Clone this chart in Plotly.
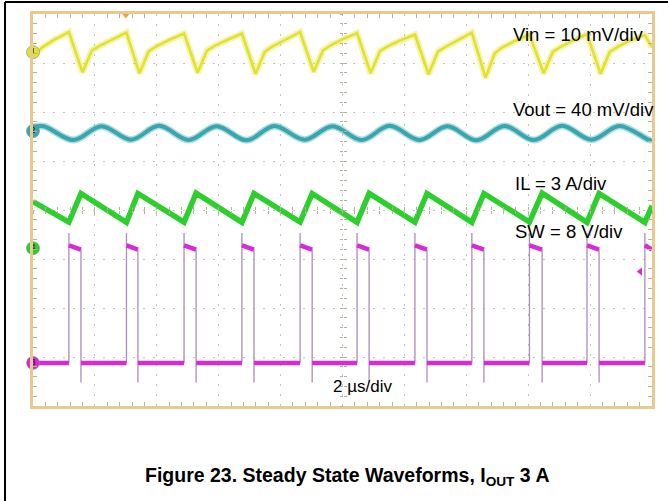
import plotly.graph_objects as go

# ---------------- data ----------------
# time in microseconds (2 us/div, 10 divisions)
vin_t = [0.00, 0.30, 0.70,
         1.16, 1.60, 1.90, 2.15, 2.55,
         3.02, 3.44, 3.74, 3.99, 4.39,
         4.88, 5.32, 5.62, 5.87, 6.27,
         6.75, 7.19, 7.49, 7.74, 8.14,
         8.63, 9.07, 9.37, 9.62, 10.02,
         10.47, 10.91, 11.21, 11.46, 11.86,
         12.34, 12.78, 13.08, 13.33, 13.73,
         14.18, 14.62, 14.92, 15.17, 15.57,
         16.04, 16.50, 16.80, 17.05, 17.45,
         17.90, 18.34, 18.64, 18.89, 19.29,
         19.77, 20.00]
vin_mv = [-0.8, 1.0, 2.6,
          4.1, -4.1, 0.3, 1.3, 2.6,
          4.0, -4.3, 0.2, 1.2, 2.5,
          3.8, -4.2, 0.3, 1.3, 2.5,
          3.8, -4.4, 0.1, 1.2, 2.5,
          4.1, -4.0, 0.4, 1.4, 2.7,
          3.9, -4.3, 0.2, 1.2, 2.4,
          3.6, -4.5, 0.1, 1.1, 2.4,
          4.0, -5.2, -0.2, 1.0, 2.3,
          3.6, -4.3, 0.1, 1.1, 2.4,
          3.7, -4.4, 0.1, 1.1, 2.4,
          3.5, 1.0]

vout_t = [0.00, 0.35, 1.31, 2.21, 3.17, 4.07, 5.03, 5.93, 6.90, 7.80, 8.78, 9.68,
          10.62, 11.52, 12.49, 13.39, 14.33, 15.23, 16.19, 17.09, 18.05, 18.95, 19.92, 20.00]
vout_mv = [3.3, 4.0, -7.3, 4.0, -7.0, 4.3, -7.3, 4.0, -7.5, 4.2, -7.0, 4.0,
           -7.3, 4.3, -7.2, 4.0, -7.5, 4.2, -7.3, 4.3, -7.0, 4.2, -7.3, -6.9]

il_t = [0.00, 1.16, 1.55, 3.02, 3.39, 4.88, 5.27, 6.75, 7.14, 8.63, 9.02, 10.47,
        10.86, 12.34, 12.73, 14.18, 14.57, 16.04, 16.45, 17.90, 18.29, 19.77, 20.00]
il_a = [2.85, 1.60, 3.35, 1.58, 3.35, 1.60, 3.37, 1.58, 3.35, 1.60, 3.35, 1.58,
        3.36, 1.60, 3.35, 1.58, 3.35, 1.60, 3.37, 1.58, 3.35, 1.58, 2.60]

sw_rise_us = [1.16, 3.02, 4.88, 6.75, 8.63, 10.47, 12.34, 14.18, 16.04, 17.90, 19.77]
sw_fall_us = [1.55, 3.39, 5.27, 7.14, 9.02, 10.86, 12.73, 14.57, 16.45, 18.29]
sw_high_start_v = 19.2
sw_high_end_v = 18.5
sw_overshoot_v = 21.2
sw_undershoot_v = -3.2
sw_low_v = 0.0
sw_trigger_level_v = 14.9
trigger_time_us = 3.0

channel_labels = ["1", "2", "4", "3"]
scale_labels = ["Vin = 10 mV/div", "Vout = 40 mV/div", "IL = 3 A/div", "SW = 8 V/div"]
time_label = "2 µs/div"
caption = "<b>Figure 23. Steady State Waveforms, I<sub>OUT</sub> 3 A</b>"

# ---------------- styling / layout config ----------------
YEL = "#E2E22C"
TEAL = "#36A7AF"
GREEN = "#2CCF2C"
MAG = "#D62BD6"
EDGE = "#A98DB8"
TAN = "#E9C98E"
GRID = "#C4C4C4"
TICK = "#B9AE98"
FONT = "Liberation Sans, Arial, sans-serif"

T_END = 20.0
# channel: (axis name, offset in divisions, units per division)
chan = [("y2", 3.22, 10.0), ("y3", 1.61, 40.0), ("y4", -0.78, 3.0), ("y5", -3.12, 8.0)]
chan_colors = [YEL, TEAL, GREEN, MAG]

fig = go.Figure()

# Vin: soft halo + core
fig.add_trace(go.Scatter(x=vin_t, y=vin_mv, yaxis="y2", mode="lines",
                         line=dict(color=YEL, width=6.5), opacity=0.35, hoverinfo="skip"))
fig.add_trace(go.Scatter(x=vin_t, y=vin_mv, yaxis="y2", mode="lines",
                         line=dict(color=YEL, width=2.6), hoverinfo="skip"))
# Vout
fig.add_trace(go.Scatter(x=vout_t, y=vout_mv, yaxis="y3", mode="lines",
                         line=dict(color=TEAL, width=7, shape="spline", smoothing=1.0),
                         opacity=0.4, hoverinfo="skip"))
fig.add_trace(go.Scatter(x=vout_t, y=vout_mv, yaxis="y3", mode="lines",
                         line=dict(color=TEAL, width=4, shape="spline", smoothing=1.0),
                         hoverinfo="skip"))
# IL
fig.add_trace(go.Scatter(x=il_t, y=il_a, yaxis="y4", mode="lines",
                         line=dict(color=GREEN, width=5.5), hoverinfo="skip"))

# SW edges (thin) and plateaus (thick)
ex, ey = [], []
for r in sw_rise_us:
    ex += [r, r, None]
    ey += [sw_low_v, sw_overshoot_v, None]
for f in sw_fall_us:
    ex += [f, f, None]
    ey += [sw_high_end_v, sw_undershoot_v, None]
fig.add_trace(go.Scatter(x=ex, y=ey, yaxis="y5", mode="lines",
                         line=dict(color=EDGE, width=1.3), hoverinfo="skip"))

px_, py_ = [0.0, sw_rise_us[0], None], [sw_low_v, sw_low_v, None]
for i, r in enumerate(sw_rise_us):
    f = sw_fall_us[i] if i < len(sw_fall_us) else T_END
    px_ += [r, f, None]
    py_ += [sw_high_start_v, sw_high_end_v, None]
    if i < len(sw_fall_us):
        nxt = sw_rise_us[i + 1]
        px_ += [f, nxt, None]
        py_ += [sw_low_v, sw_low_v, None]
fig.add_trace(go.Scatter(x=px_, y=py_, yaxis="y5", mode="lines",
                         line=dict(color=MAG, width=4.5), hoverinfo="skip"))

# channel ground markers
for (ax, off, sc), col, lab in zip(chan, chan_colors, channel_labels):
    fig.add_trace(go.Scatter(x=[0], y=[0], yaxis=ax, mode="markers+text",
                             marker=dict(size=13, color=col, line=dict(color="#8a8a8a", width=0.6)),
                             text=[lab], textposition="middle center",
                             textfont=dict(size=9, color="#222222", family=FONT),
                             cliponaxis=False, hoverinfo="skip"))

# trigger markers
fig.add_trace(go.Scatter(x=[trigger_time_us], y=[4], yaxis="y", mode="markers",
                         marker=dict(symbol="triangle-down", size=9, color="#F0A040"),
                         cliponaxis=False, hoverinfo="skip"))
fig.add_trace(go.Scatter(x=[19.62], y=[sw_trigger_level_v], yaxis="y5", mode="markers",
                         marker=dict(symbol="triangle-left", size=7, color=MAG),
                         cliponaxis=False, hoverinfo="skip"))

# dummy traces for centre tick axes
for xa, ya in [("x2", "y"), ("x3", "y"), ("x", "y6"), ("x", "y7")]:
    fig.add_trace(go.Scatter(x=[None], y=[None], xaxis=xa, yaxis=ya, hoverinfo="skip"))

base_x = dict(range=[0, T_END], showticklabels=False, zeroline=False, fixedrange=True)
base_y = dict(range=[-4, 4], showticklabels=False, zeroline=False, fixedrange=True)

layout = dict(
    width=668, height=501,
    margin=dict(l=33, r=16, t=14, b=95),
    paper_bgcolor="white", plot_bgcolor="white",
    showlegend=False,
    xaxis=dict(**base_x, showline=True, linecolor=TAN, linewidth=3, mirror="ticks",
               showgrid=True, gridcolor=GRID, griddash="2px,8px", gridwidth=1,
               dtick=2, tick0=0, ticks="",
               minor=dict(dtick=0.4, tick0=0, ticks="inside", ticklen=4,
                          tickcolor=TICK, tickwidth=1, showgrid=False)),
    yaxis=dict(**base_y, showline=True, linecolor=TAN, linewidth=3, mirror="ticks",
               showgrid=True, gridcolor=GRID, griddash="2px,8px", gridwidth=1,
               dtick=1, tick0=0, ticks="",
               minor=dict(dtick=0.2, tick0=0, ticks="inside", ticklen=4,
                          tickcolor=TICK, tickwidth=1, showgrid=False)),
    xaxis2=dict(**base_x, overlaying="x", anchor="free", position=0.5, showline=False,
                showgrid=False, dtick=0.4, tick0=0, ticks="outside", ticklen=3,
                tickcolor=TICK),
    xaxis3=dict(**base_x, overlaying="x", anchor="free", position=0.5, showline=False,
                showgrid=False, dtick=0.4, tick0=0, ticks="inside", ticklen=3,
                tickcolor=TICK),
    yaxis6=dict(**base_y, overlaying="y", anchor="free", position=0.5, showline=False,
                showgrid=False, dtick=0.2, tick0=0, ticks="outside", ticklen=3,
                tickcolor=TICK),
    yaxis7=dict(**base_y, overlaying="y", anchor="free", position=0.5, showline=False,
                showgrid=False, dtick=0.2, tick0=0, ticks="inside", ticklen=3,
                tickcolor=TICK),
)
for ax, off, sc in chan:
    key = "yaxis" + ax[1:]
    layout[key] = dict(overlaying="y", visible=False, fixedrange=True,
                       range=[(-4 - off) * sc, (4 - off) * sc])
fig.update_layout(**layout)

# scale annotations (x in us, y in divisions)
ann_pos = [(15.44, 3.59), (15.44, 2.06), (15.51, 0.55), (15.51, -0.43)]
for txt, (ax_, ay_) in zip(scale_labels, ann_pos):
    fig.add_annotation(x=ax_, y=ay_, xref="x", yref="y", text=txt, showarrow=False,
                       xanchor="left", yanchor="middle",
                       font=dict(family=FONT, size=18.5, color="black"))
fig.add_annotation(x=9.63, y=-3.6, xref="x", yref="y", text=time_label, showarrow=False,
                   xanchor="left", yanchor="middle",
                   font=dict(family=FONT, size=17, color="black"))
fig.add_annotation(x=0.507, y=-0.181, xref="paper", yref="paper", text=caption,
                   showarrow=False, xanchor="center", yanchor="middle",
                   font=dict(family=FONT, size=19.5, color="black"))

# outer page border (top and left)
fig.add_shape(type="line", xref="paper", yref="paper", x0=-0.0452, x1=1.03, y0=1.0306, y1=1.0306,
              line=dict(color="black", width=2))
fig.add_shape(type="line", xref="paper", yref="paper", x0=-0.0452, x1=-0.0452, y0=1.0306, y1=-0.25,
              line=dict(color="black", width=2))

fig.write_html("out.html", config={"displayModeBar": False},
               post_script="document.body.style.margin='0px';")
